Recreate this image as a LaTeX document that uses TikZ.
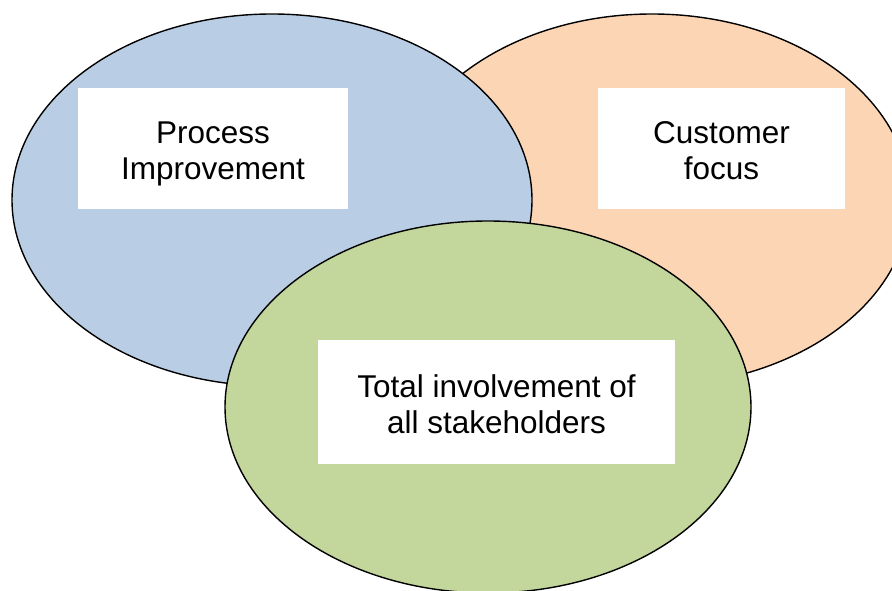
\documentclass[tikz,border=0pt]{standalone}
\usepackage{fontspec}
\setmainfont{Liberation Sans}
\usetikzlibrary{shapes.geometric}
\definecolor{cblue}{HTML}{B9CDE5}
\definecolor{corange}{HTML}{FCD5B5}
\definecolor{cgreen}{HTML}{C3D69B}
\newcommand{\boxtext}[2]{\raisebox{-6pt}[\height][\depth]{\begin{tabular}{@{}c@{}}#1\\#2\end{tabular}}}
\tikzset{
  circ/.style={ellipse, draw=black, line width=1.4pt, inner sep=0pt},
  label box/.style={rectangle, fill=white, draw=none, inner sep=0pt, align=center,
    font=\fontsize{31.5}{36}\selectfont},
}
\begin{document}
\begin{tikzpicture}[x=1pt,y=-1pt]
\useasboundingbox (0,0) rectangle (892,591);
\clip (0,0) rectangle (892,591);
\fill[white] (0,0) rectangle (892,591);
\node[circ, fill=corange, minimum width=516pt, minimum height=372pt] (orange) at (652,200) {};
\node[circ, fill=cblue, minimum width=520pt, minimum height=372pt] (blue) at (272,200) {};
\node[circ, fill=cgreen, minimum width=526pt, minimum height=372pt] (green) at (488,407) {};
\node[label box, minimum width=270pt, minimum height=121pt] (pi) at (213,148.5) {\boxtext{Process}{Improvement}};
\node[label box, minimum width=247pt, minimum height=121pt] (cf) at (721.5,148.5) {\boxtext{Customer}{focus}};
\node[label box, minimum width=357pt, minimum height=124pt] (ti) at (496.5,402) {\boxtext{Total involvement of}{all stakeholders}};
\end{tikzpicture}
\end{document}
